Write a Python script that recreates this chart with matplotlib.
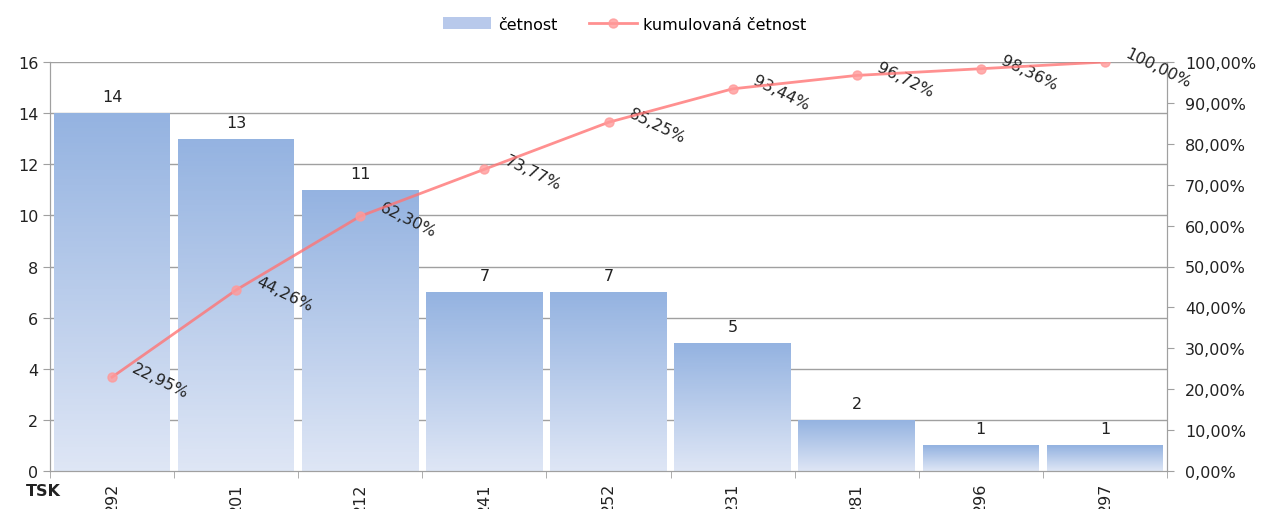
import numpy as np
import matplotlib
matplotlib.use('Agg')
import matplotlib.pyplot as plt
from matplotlib.patches import Patch
from matplotlib.lines import Line2D
from matplotlib.ticker import FixedLocator

# data
categories = ['292', '201', '212', '241', '252', '231', '281', '296', '297']
counts = [14, 13, 11, 7, 7, 5, 2, 1, 1]
cum_pct = [22.95, 44.26, 62.30, 73.77, 85.25, 93.44, 96.72, 98.36, 100.00]
left_ticks = [0, 2, 4, 6, 8, 10, 12, 14, 16]
right_ticks = [0, 10, 20, 30, 40, 50, 60, 70, 80, 90, 100]

grey = '#a0a0a0'
line_col = '#ff7575'
mark_col = '#ff9a9a'
txt = '#222222'
fs = 11.5

fig = plt.figure(figsize=(12.62, 5.10), dpi=100)
ax = fig.add_axes([50 / 1262, 38 / 510, 1117 / 1262, 409 / 510])
x = np.arange(len(categories))

# gradient bars drawn as thin horizontal strips
top_c = np.array([0.58, 0.70, 0.88])
bot_c = np.array([0.87, 0.90, 0.96])
w = 0.94
n = 120
for xi, v in zip(x, counts):
    h = v / n
    bottoms = np.arange(n) * h
    cols = [bot_c + (top_c - bot_c) * (k / (n - 1)) for k in range(n)]
    ax.bar(np.full(n, xi), np.full(n, h * 1.02), bottom=bottoms, width=w,
           color=cols, linewidth=0, antialiased=False, zorder=2)
    ax.text(xi, v + 0.35, str(v), ha='center', va='bottom', fontsize=fs, color=txt)
ax.set_xlim(-0.5, len(categories) - 0.5)
ax.set_ylim(0, 16)

ax.set_yticks(left_ticks)
for t in left_ticks[1:]:
    ax.axhline(t, color=grey, linewidth=1, zorder=0.5)
ax.set_xticks(x)
ax.set_xticklabels(categories, rotation=90, va='top', fontsize=fs, color=txt)
ax.xaxis.set_minor_locator(FixedLocator(np.arange(-0.5, len(categories), 1)))
ax.tick_params(axis='x', which='major', length=0, pad=8)
ax.tick_params(axis='x', which='minor', length=5, color=grey)
ax.tick_params(axis='y', length=5, color=grey, labelsize=fs, labelcolor=txt)
for s in ['left', 'bottom', 'right']:
    ax.spines[s].set_color(grey)
ax.spines['top'].set_visible(False)
fig.text(26 / 1262, 1 - 492 / 510, 'TSK', fontsize=fs, fontweight='bold',
         color=txt, ha='left', va='center')

# cumulative line
ax2 = ax.twinx()
ax2.set_ylim(0, 100)
ax2.plot(x, cum_pct, color=line_col, linewidth=2, alpha=0.8, marker='o',
         markersize=6.5, markerfacecolor=mark_col, markeredgecolor=mark_col, zorder=5)
for xi, p in zip(x, cum_pct):
    ax2.annotate(('%.2f' % p).replace('.', ',') + '%', (xi, p), xytext=(15, 7),
                 textcoords='offset points', rotation=-26, rotation_mode='anchor',
                 ha='left', va='center', fontsize=fs, color=txt)
ax2.set_yticks(right_ticks)
ax2.set_yticklabels([('%.2f' % t).replace('.', ',') + '%' for t in right_ticks])
ax2.tick_params(axis='y', length=5, color=grey, labelsize=fs, labelcolor=txt, pad=8)
for s in ['left', 'bottom', 'right']:
    ax2.spines[s].set_color(grey)
ax2.spines['top'].set_visible(False)

handles = [Patch(facecolor=(0.72, 0.79, 0.92), edgecolor='none'),
           Line2D([0], [0], color=line_col, linewidth=2, alpha=0.8, marker='o',
                  markersize=6.5, markerfacecolor=mark_col, markeredgecolor=mark_col)]
fig.legend(handles, ['četnost', 'kumulovaná četnost'], loc='center',
           bbox_to_anchor=(625 / 1262, 1 - 25 / 510), ncol=2, frameon=False,
           fontsize=fs, handlelength=3.0, columnspacing=2.0, handletextpad=0.4)

fig.savefig('out.png', dpi=100)
